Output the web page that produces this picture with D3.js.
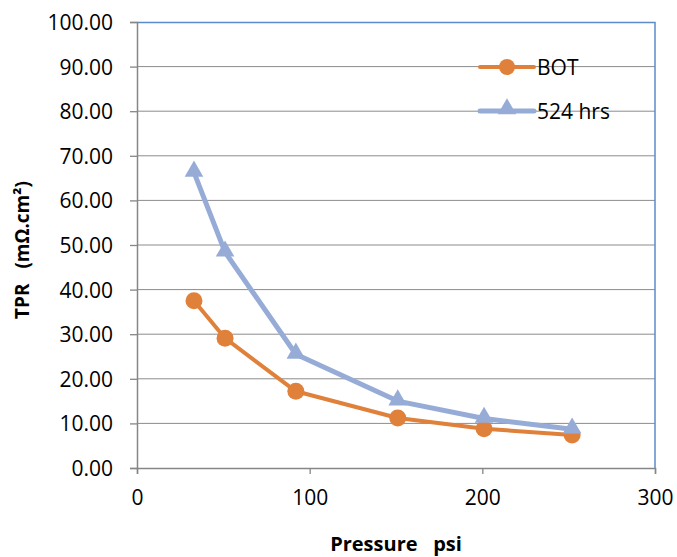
<!DOCTYPE html>
<html>
<head>
<meta charset="utf-8">
<script src="https://cdn.jsdelivr.net/npm/d3@7"></script>
<style>
  body { margin: 0; background: #fff; }
  text { font-family: "Open Sans", sans-serif; }
</style>
</head>
<body>
<div id="chart"></div>
<script>
var svgWidth = 677;
var svgHeight = 557;

// data
var pressure = [33, 51, 92, 151, 201, 252];
var botValues = [37.5, 29.1, 17.2, 11.2, 8.8, 7.4];
var hrsValues = [66.3, 48.4, 25.5, 15.0, 11.1, 8.7];
var seriesNames = ["BOT", "524 hrs"];
var xTicks = [0, 100, 200, 300];
var yTicks = [0, 10, 20, 30, 40, 50, 60, 70, 80, 90, 100];

var margin = { top: 22, right: 22, bottom: 89, left: 137 };
var width = svgWidth - margin.left - margin.right;
var height = svgHeight - margin.top - margin.bottom;

var orange = "#E0813B";
var blue = "#96ACD7";

var svg = d3.select("#chart")
    .append("svg")
    .attr("width", svgWidth)
    .attr("height", svgHeight);

var chartGroup = svg.append("g")
    .attr("transform", `translate(${margin.left}, ${margin.top})`);

var xScale = d3.scaleLinear().domain([0, 300]).range([0, width]);
var yScale = d3.scaleLinear().domain([0, 100]).range([height, 0]);

// gridlines
chartGroup.append("g").selectAll("line")
    .data(yTicks.slice(1, -1))
    .enter()
    .append("line")
    .attr("x1", 0)
    .attr("x2", width)
    .attr("y1", d => yScale(d))
    .attr("y2", d => yScale(d))
    .attr("stroke", "#8c8c8c")
    .attr("stroke-width", 1);

// blue frame on top and right
chartGroup.append("path")
    .attr("d", `M0,0.5H${width}V${height}`)
    .attr("fill", "none")
    .attr("stroke", "#5b8bc9")
    .attr("stroke-width", 1.5);

var leftAxis = d3.axisLeft(yScale)
    .tickValues(yTicks)
    .tickSize(7)
    .tickPadding(17)
    .tickFormat(d3.format(".2f"));

var bottomAxis = d3.axisBottom(xScale)
    .tickValues(xTicks)
    .tickSize(6)
    .tickPadding(16);

var yAxisG = chartGroup.append("g").call(leftAxis);
var xAxisG = chartGroup.append("g")
    .attr("transform", `translate(0, ${height})`)
    .call(bottomAxis);

[yAxisG, xAxisG].forEach(function(g) {
    g.select(".domain").attr("stroke", "#868686").attr("stroke-width", 1.5);
    g.selectAll(".tick line").attr("stroke", "#868686").attr("stroke-width", 1.3);
    g.selectAll("text")
        .attr("font-family", "'Open Sans', sans-serif")
        .attr("font-size", "21px")
        .attr("fill", "#000");
});
yAxisG.selectAll("text").attr("dy", "0.36em");

var line = d3.line()
    .x(d => xScale(d[0]))
    .y(d => yScale(d[1]));

var botData = pressure.map((p, i) => [p, botValues[i]]);
var hrsData = pressure.map((p, i) => [p, hrsValues[i]]);

var tri = d3.symbol().type(d3.symbolTriangle).size(150);

// orange series
chartGroup.append("path")
    .datum(botData)
    .attr("d", line)
    .attr("fill", "none")
    .attr("stroke", orange)
    .attr("stroke-width", 4)
    .attr("stroke-linejoin", "round");

chartGroup.append("g").selectAll("circle")
    .data(botData)
    .enter()
    .append("circle")
    .attr("cx", d => xScale(d[0]))
    .attr("cy", d => yScale(d[1]))
    .attr("r", 8.5)
    .attr("fill", orange);

// blue series
chartGroup.append("path")
    .datum(hrsData)
    .attr("d", line)
    .attr("fill", "none")
    .attr("stroke", blue)
    .attr("stroke-width", 5)
    .attr("stroke-linejoin", "round");

chartGroup.append("g").selectAll("path")
    .data(hrsData)
    .enter()
    .append("path")
    .attr("d", tri)
    .attr("transform", d => `translate(${xScale(d[0])}, ${yScale(d[1]) - 1})`)
    .attr("fill", blue);

// legend
var legend = svg.append("g").attr("transform", "translate(480, 0)");
var legendY = [67, 111];
var legendColors = [orange, blue];

legend.selectAll("line")
    .data(seriesNames)
    .enter()
    .append("line")
    .attr("x1", 0)
    .attr("x2", 54)
    .attr("y1", (d, i) => legendY[i])
    .attr("y2", (d, i) => legendY[i])
    .attr("stroke", (d, i) => legendColors[i])
    .attr("stroke-width", (d, i) => i == 0 ? 4 : 5)
    .attr("stroke-linecap", "round");

legend.append("circle")
    .attr("cx", 27)
    .attr("cy", legendY[0])
    .attr("r", 8)
    .attr("fill", orange);

legend.append("path")
    .attr("d", tri)
    .attr("transform", `translate(27, ${legendY[1] - 2})`)
    .attr("fill", blue);

legend.selectAll("text")
    .data(seriesNames)
    .enter()
    .append("text")
    .attr("x", 57)
    .attr("y", (d, i) => legendY[i])
    .attr("dy", "0.36em")
    .attr("font-size", "21px")
    .attr("fill", "#000")
    .text(d => d);

// axis titles
svg.append("text")
    .attr("x", margin.left + width / 2)
    .attr("y", 551)
    .attr("text-anchor", "middle")
    .attr("font-size", "20px")
    .style("font-weight", "bold")
    .attr("xml:space", "preserve")
    .text("Pressure   psi");

svg.append("text")
    .attr("transform", "translate(29, 250) rotate(-90)")
    .attr("text-anchor", "middle")
    .attr("font-size", "19px")
    .style("font-weight", "bold")
    .attr("xml:space", "preserve")
    .text("TPR   (mΩ.cm²)");
</script>
</body>
</html>
